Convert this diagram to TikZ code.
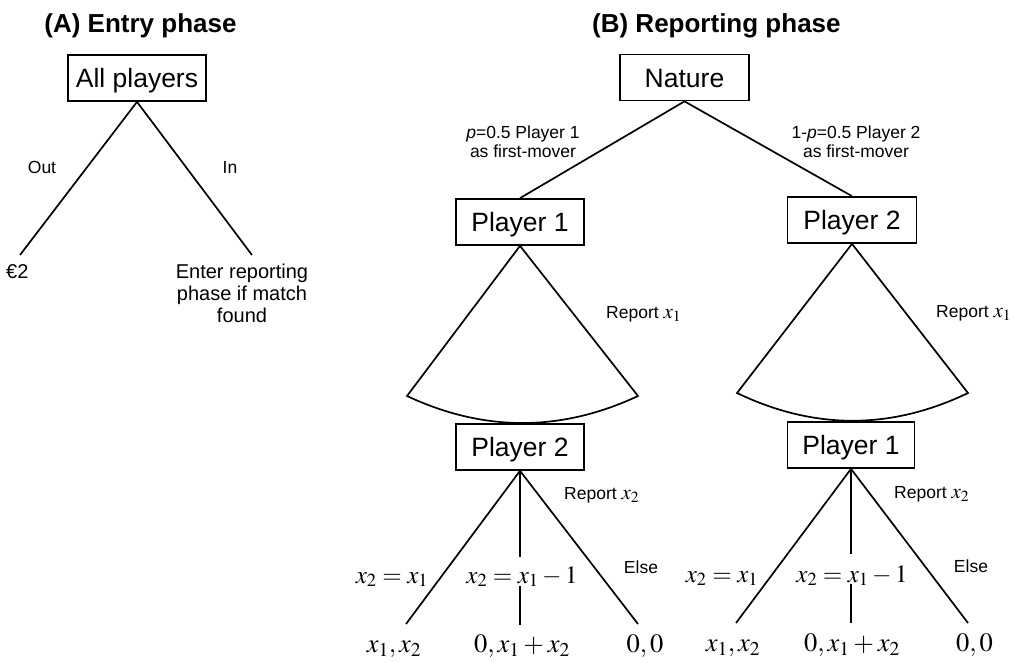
\documentclass[tikz,border=0pt]{standalone}
\usepackage{mathptmx}
\usepackage[no-math]{fontspec}
\setmainfont{Liberation Sans}
\newcommand{\bigx}[1]{{\fontsize{21}{21}\selectfont$#1$}}
\begin{document}
\begin{tikzpicture}[x=1pt,y=-1pt,
  box/.style={draw, line width=1.7pt, inner sep=0pt, minimum height=46pt, text height=24pt, text depth=4.6pt, font=\fontsize{26.5}{30}\selectfont},
  edge/.style={line width=1.7pt},
  lbl/.style={font=\fontsize{17.5}{18.5}\selectfont, inner sep=0pt},
  mlbl/.style={font=\fontsize{25}{28}\selectfont, inner sep=0pt},
  pay/.style={font=\fontsize{26.5}{30}\selectfont, inner sep=0pt},
  ttl/.style={font=\fontsize{26}{30}\selectfont\bfseries, inner sep=0pt}]
\useasboundingbox (0,0) rectangle (1014,662);

% titles
\node[ttl, anchor=base] (tA) at (140.5,32) {(A) Entry phase};
\node[ttl, anchor=base west] (tB) at (592,32) {(B) Reporting phase};

% ---------- Entry phase ----------
\node[box, minimum width=138pt] (all) at (137,78) {All players};
\coordinate (outE) at (20,255);
\coordinate (inE) at (252,255);
\draw[edge] (all.south) -- (outE);
\draw[edge] (all.south) -- (inE);
\node[lbl] (out) at (42,167) {Out};
\node[lbl] (in) at (230,167) {In};
\node[font=\fontsize{20}{22}\selectfont, inner sep=0pt, anchor=base west] (eur) at (6,278) {€2};
\node[font=\fontsize{20}{22}\selectfont, inner sep=0pt, align=center, anchor=north] (enter) at (242,263.5) {Enter reporting\\phase if match\\found};

% ---------- Reporting phase ----------
\node[box, minimum width=129pt] (nat) at (684.5,77.5) {Nature};
\node[box, minimum width=128pt] (p1a) at (520,222) {Player 1};
\node[box, minimum width=129pt] (p2a) at (852,220) {Player 2};
\draw[edge] (nat.south) -- (p1a.north);
\draw[edge] (nat.south) -- (p2a.north);
\node[lbl, align=center, anchor=north] (lp1) at (523,126) {\textit{p}=0.5 Player 1\\as first-mover};
\node[lbl, align=center, anchor=north] (lp2) at (856,126) {1-\textit{p}=0.5 Player 2\\as first-mover};

% fans
\coordinate (fl1) at (407,396);
\coordinate (fr1) at (638,396);
\draw[edge, line join=miter] (p1a.south) -- (fl1) .. controls (484,432) and (561,432) .. (fr1) -- cycle;
\coordinate (fl2) at (737,393);
\coordinate (fr2) at (968,393);
\draw[edge, line join=miter] (p2a.south) -- (fl2) .. controls (814,430) and (891,430) .. (fr2) -- cycle;
\node[lbl, anchor=base west] (r1a) at (606,318) {Report \bigx{x_1}};
\node[lbl, anchor=base west] (r1b) at (936,317) {Report \bigx{x_1}};

% second movers
\node[box, minimum width=128pt] (p2b) at (520,447) {Player 2};
\node[box, minimum width=127pt] (p1b) at (851,445) {Player 1};
\node[lbl, anchor=base west] (r2a) at (564,499) {Report \bigx{x_2}};
\node[lbl, anchor=base west] (r2b) at (894,498) {Report \bigx{x_2}};

% left subtree branches
\coordinate (a1) at (406,624);
\coordinate (a2t) at (520,557);
\coordinate (a2b) at (520,586);
\coordinate (a2) at (520,625);
\coordinate (a3) at (638,624);
\draw[edge] (p2b.south) -- (a1);
\draw[edge] (p2b.south) -- (a2t);
\draw[edge] (a2b) -- (a2);
\draw[edge] (p2b.south) -- (a3);
\node[mlbl, anchor=base] (ea1) at (392,583) {$x_2 = x_1$};
\node[mlbl, anchor=base] (ea2) at (522,583) {$x_2 = x_1 - 1$};
\node[lbl, anchor=base] (ea3) at (641,573) {Else};
\node[pay, anchor=base] (pa1) at (394,652) {$x_1, x_2$};
\node[pay, anchor=base] (pa2) at (522,652) {$0, x_1 + x_2$};
\node[pay, anchor=base] (pa3) at (645,652) {$0, 0$};

% right subtree branches
\coordinate (b1) at (736,623);
\coordinate (b2t) at (851,554);
\coordinate (b2b) at (851,584);
\coordinate (b2) at (851,623);
\coordinate (b3) at (968,623);
\draw[edge] (p1b.south) -- (b1);
\draw[edge] (p1b.south) -- (b2t);
\draw[edge] (b2b) -- (b2);
\draw[edge] (p1b.south) -- (b3);
\node[mlbl, anchor=base] (eb1) at (722,582) {$x_2 = x_1$};
\node[mlbl, anchor=base] (eb2) at (852,582) {$x_2 = x_1 - 1$};
\node[lbl, anchor=base] (eb3) at (971,572) {Else};
\node[pay, anchor=base] (pb1) at (733,651) {$x_1, x_2$};
\node[pay, anchor=base] (pb2) at (852,651) {$0, x_1 + x_2$};
\node[pay, anchor=base] (pb3) at (974.5,651) {$0, 0$};
\end{tikzpicture}
\end{document}
